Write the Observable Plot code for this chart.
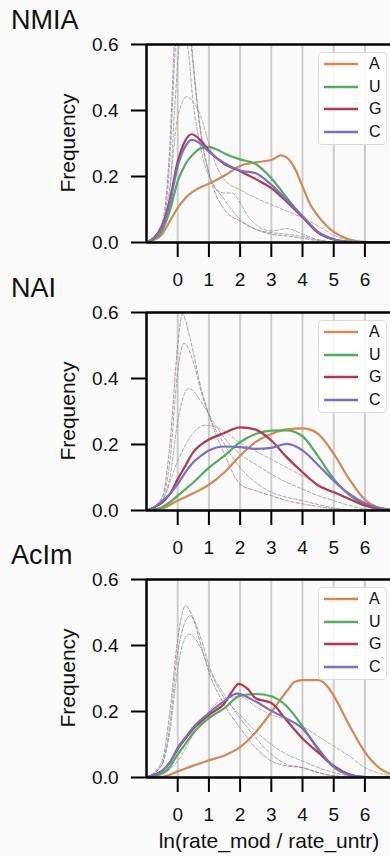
<!DOCTYPE html>
<html>
<head>
<meta charset="utf-8">
<script src="https://cdn.jsdelivr.net/npm/d3@7"></script>
<script src="https://cdn.jsdelivr.net/npm/@observablehq/plot@0.6"></script>
<style>
  body { margin: 0; background: #fafafa; font-family: "Liberation Sans", Arial, sans-serif; color: #111; }
  #chart { position: relative; width: 390px; height: 856px; overflow: hidden; }
  .panel { position: absolute; left: 0; }
  .title { position: absolute; left: 11px; font-size: 27px; line-height: 27px; white-space: nowrap; }
  .ylab { position: absolute; font-size: 21px; line-height: 21px; white-space: nowrap;
          transform: translate(-50%, -50%) rotate(-90deg); }
  .xlab { position: absolute; font-size: 21px; line-height: 21px; white-space: nowrap;
          transform: translateX(-50%); }
  .legend { position: absolute; left: 318px; width: 69px; height: 93px; box-sizing: border-box;
            border: 1px solid #dcdcdc; border-radius: 4px; background: rgba(255,255,255,0.85); }
  .legend .row { position: absolute; left: 0; height: 20px; display: flex; align-items: center; }
  .legend .row span { font-size: 16px; margin-left: 10px; }
</style>
</head>
<body>
<div id="chart"></div>
<script>
// Nucleotides, colours and panels
const nucleotides = ["A", "U", "G", "C"];
const colors = ["#d38a4f", "#4fae5f", "#b4374b", "#7b6ec5"];
const reagents = ["NMIA", "NAI", "AcIm"];
const xTicks = [0, 1, 2, 3, 4, 5, 6];
const yTicks = [0, 0.2, 0.4, 0.6];
const xLabel = "ln(rate_mod / rate_untr)";
const yLabel = "Frequency";

// NMIA — solid density curves, [x, frequency]
const nmiaA = [[-1,0],[-0.75,0.008],[-0.5,0.025],[-0.25,0.065],[0,0.105],[0.25,0.135],[0.5,0.155],[0.75,0.168],[1,0.178],[1.5,0.203],[2,0.232],[2.5,0.243],[3,0.25],[3.3,0.264],[3.5,0.257],[3.75,0.225],[4,0.17],[4.25,0.115],[4.5,0.08],[5,0.032],[5.5,0.009],[6,0.002],[7,0]];
const nmiaU = [[-1,0],[-0.75,0.01],[-0.5,0.036],[-0.25,0.097],[0,0.185],[0.25,0.238],[0.5,0.268],[0.75,0.286],[1,0.29],[1.25,0.282],[1.5,0.27],[2,0.252],[2.5,0.238],[3,0.195],[3.5,0.135],[4,0.078],[4.5,0.03],[5,0.009],[5.5,0.002],[6,0],[7,0]];
const nmiaG = [[-1,0],[-0.75,0.015],[-0.5,0.05],[-0.25,0.13],[0,0.245],[0.25,0.31],[0.45,0.328],[0.75,0.308],[1,0.278],[1.5,0.238],[2,0.216],[2.5,0.192],[3,0.165],[3.5,0.123],[4,0.077],[4.5,0.03],[5,0.009],[5.5,0.002],[6,0],[7,0]];
const nmiaC = [[-1,0],[-0.75,0.014],[-0.5,0.045],[-0.25,0.12],[0,0.232],[0.25,0.292],[0.45,0.311],[0.75,0.298],[1,0.275],[1.5,0.24],[2,0.218],[2.5,0.21],[3,0.175],[3.5,0.128],[4,0.08],[4.5,0.032],[5,0.01],[5.5,0.002],[6,0],[7,0]];
// NMIA — dashed curves
const nmiaAd = [[-1,0],[-0.5,0.04],[-0.25,0.17],[0,0.38],[0.3,0.442],[0.5,0.425],[0.75,0.38],[1,0.3],[1.25,0.23],[1.5,0.19],[2,0.16],[2.5,0.135],[3,0.115],[3.5,0.095],[4,0.075],[4.5,0.05],[5,0.022],[5.5,0.006],[6,0],[7,0]];
const nmiaUd = [[-1,0],[-0.5,0.03],[-0.25,0.15],[-0.1,0.4],[0.1,0.62],[0.3,0.6],[0.5,0.42],[0.75,0.28],[1,0.2],[1.25,0.16],[1.5,0.15],[1.75,0.15],[2,0.12],[2.25,0.08],[2.5,0.055],[3,0.035],[3.5,0.042],[4,0.025],[4.5,0.008],[5,0.002],[6,0],[7,0]];
const nmiaGd = [[-1,0],[-0.5,0.06],[-0.25,0.3],[-0.1,0.62],[0.1,0.88],[0.3,0.8],[0.45,0.6],[0.75,0.33],[1,0.21],[1.5,0.1],[2,0.065],[2.5,0.04],[3,0.025],[3.5,0.02],[4,0.013],[4.5,0.005],[5,0],[7,0]];
const nmiaCd = [[-1,0],[-0.5,0.05],[-0.25,0.25],[-0.1,0.55],[0.1,0.78],[0.3,0.72],[0.45,0.58],[0.75,0.32],[1,0.21],[1.5,0.13],[2,0.07],[2.5,0.04],[3,0.03],[3.5,0.025],[4,0.018],[4.5,0.008],[5,0.002],[7,0]];

// NAI — solid density curves
const naiA = [[-1,0],[-0.5,0.006],[0,0.03],[0.5,0.052],[1,0.078],[1.5,0.116],[2,0.166],[2.5,0.208],[3,0.232],[3.5,0.246],[4,0.249],[4.25,0.245],[4.5,0.232],[5,0.172],[5.5,0.095],[6,0.033],[6.5,0.007],[7,0.001]];
const naiU = [[-1,0],[-0.5,0.01],[-0.25,0.025],[0,0.045],[0.5,0.085],[1,0.13],[1.5,0.166],[2,0.207],[2.5,0.232],[3,0.242],[3.5,0.243],[4,0.225],[4.5,0.164],[5,0.096],[5.5,0.047],[6,0.018],[6.5,0.005],[7,0]];
const naiG = [[-1,0],[-0.75,0.01],[-0.5,0.024],[-0.25,0.05],[0,0.095],[0.25,0.136],[0.5,0.177],[0.75,0.2],[1,0.215],[1.5,0.235],[2,0.252],[2.5,0.245],[3,0.212],[3.5,0.161],[4,0.116],[4.5,0.076],[5,0.055],[5.5,0.035],[6,0.015],[6.5,0.004],[7,0]];
const naiC = [[-1,0],[-0.75,0.01],[-0.5,0.028],[-0.25,0.05],[0,0.08],[0.25,0.116],[0.5,0.146],[0.75,0.166],[1,0.182],[1.5,0.194],[2,0.192],[2.5,0.187],[3,0.19],[3.5,0.202],[4,0.182],[4.5,0.138],[5,0.09],[5.5,0.05],[6,0.022],[6.5,0.007],[7,0]];
// NAI — dashed curves
const naiAd = [[-1,0],[-0.5,0.03],[0,0.15],[0.5,0.235],[0.85,0.258],[1.5,0.24],[2,0.205],[2.5,0.18],[3,0.155],[3.5,0.13],[4,0.105],[4.5,0.08],[5,0.055],[5.5,0.035],[6,0.018],[6.5,0.005],[7,0]];
const naiUd = [[-1,0],[-0.5,0.03],[-0.25,0.1],[0,0.27],[0.35,0.37],[0.75,0.33],[1,0.29],[1.5,0.22],[2,0.17],[2.5,0.14],[3,0.11],[3.5,0.085],[4,0.065],[4.5,0.045],[5,0.03],[5.5,0.015],[6,0.005],[7,0]];
const naiGd = [[-1,0],[-0.5,0.04],[-0.25,0.2],[0,0.5],[0.15,0.595],[0.4,0.52],[0.75,0.37],[1,0.29],[1.5,0.17],[2,0.08],[2.5,0.06],[3,0.045],[3.5,0.03],[4,0.02],[4.5,0.012],[5,0.005],[6,0],[7,0]];
const naiCd = [[-1,0],[-0.5,0.035],[-0.25,0.15],[0,0.42],[0.2,0.507],[0.5,0.45],[0.75,0.36],[1,0.29],[1.5,0.2],[2,0.13],[2.5,0.085],[3,0.055],[3.5,0.04],[4,0.03],[4.5,0.018],[5,0.008],[6,0],[7,0]];

// AcIm — solid density curves
const acimA = [[-1,0],[-0.5,0.002],[0,0.018],[0.5,0.036],[1,0.052],[1.5,0.067],[2,0.092],[2.5,0.137],[3,0.198],[3.5,0.262],[3.75,0.29],[4,0.295],[4.5,0.295],[4.8,0.276],[5,0.248],[5.5,0.158],[6,0.077],[6.5,0.026],[7,0.005]];
const acimU = [[-1,0],[-0.75,0.005],[-0.5,0.012],[-0.25,0.032],[0,0.07],[0.25,0.102],[0.5,0.135],[1,0.18],[1.5,0.21],[2,0.248],[2.5,0.253],[3,0.246],[3.5,0.215],[4,0.155],[4.5,0.085],[5,0.032],[5.5,0.008],[6,0.001],[7,0]];
const acimG = [[-1,0],[-0.75,0.008],[-0.5,0.02],[-0.25,0.046],[0,0.087],[0.25,0.118],[0.5,0.148],[0.75,0.17],[1,0.19],[1.5,0.225],[1.75,0.262],[1.95,0.284],[2.25,0.268],[2.5,0.24],[3,0.226],[3.5,0.172],[4,0.118],[4.5,0.076],[5,0.035],[5.5,0.01],[6,0.001],[7,0]];
const acimC = [[-1,0],[-0.75,0.008],[-0.5,0.02],[-0.25,0.045],[0,0.09],[0.25,0.122],[0.5,0.152],[1,0.195],[1.5,0.232],[1.9,0.254],[2.5,0.23],[3,0.202],[3.5,0.178],[4,0.148],[4.5,0.088],[5,0.032],[5.5,0.008],[6,0.001],[7,0]];
// AcIm — dashed curves
const acimAd = [[-1,0],[-0.5,0.01],[0,0.05],[0.5,0.13],[1,0.2],[1.5,0.24],[2,0.245],[2.5,0.215],[3,0.19],[3.5,0.175],[4,0.155],[4.5,0.125],[5,0.095],[5.5,0.065],[6,0.03],[6.5,0.012],[7,0.003]];
const acimUd = [[-1,0],[-0.5,0.04],[-0.25,0.14],[0,0.33],[0.35,0.435],[0.75,0.39],[1,0.33],[1.5,0.24],[2,0.19],[2.5,0.14],[3,0.1],[3.5,0.07],[4,0.05],[4.5,0.03],[5,0.015],[5.5,0.005],[6,0],[7,0]];
const acimGd = [[-1,0],[-0.5,0.05],[-0.25,0.2],[0,0.42],[0.25,0.52],[0.5,0.48],[0.75,0.4],[1,0.32],[1.5,0.22],[2,0.15],[2.5,0.09],[3,0.05],[3.5,0.035],[4,0.03],[4.5,0.015],[5,0.005],[6,0],[7,0]];
const acimCd = [[-1,0],[-0.5,0.04],[-0.25,0.16],[0,0.38],[0.4,0.49],[0.75,0.42],[1,0.34],[1.5,0.25],[2,0.18],[2.5,0.12],[3,0.07],[3.5,0.04],[4,0.03],[4.5,0.015],[5,0.005],[6,0],[7,0]];

const solid = { NMIA: [nmiaA, nmiaU, nmiaG, nmiaC], NAI: [naiA, naiU, naiG, naiC], AcIm: [acimA, acimU, acimG, acimC] };
const dashed = { NMIA: [nmiaAd, nmiaUd, nmiaGd, nmiaCd], NAI: [naiAd, naiUd, naiGd, naiCd], AcIm: [acimAd, acimUd, acimGd, acimCd] };

// Layout of the three stacked panels
const plotTops = [44, 312, 579];
const mTop = 44, innerH = 198, mBottom = 48, mLeft = 146;
const chart = document.getElementById("chart");
const fontFamily = '"Liberation Sans", Arial, sans-serif';

reagents.forEach((name, i) => {
  const top = plotTops[i];
  const dashedMarks = dashed[name].map((pts, j) =>
    Plot.line(pts, { x: d => d[0], y: d => d[1], curve: "monotone-x", clip: true,
      stroke: d3.interpolateRgb(colors[j], "#8c8c8c")(0.55), strokeOpacity: 0.7,
      strokeWidth: 1, strokeDasharray: "3.5,2" }));
  const solidMarks = solid[name].map((pts, j) =>
    Plot.line(pts, { x: d => d[0], y: d => d[1], curve: "monotone-x", clip: true,
      stroke: colors[j], strokeWidth: 2.2 }));

  const svg = Plot.plot({
    width: 390,
    height: mTop + innerH + mBottom,
    marginLeft: mLeft, marginRight: 0, marginTop: mTop, marginBottom: mBottom,
    x: { domain: [-1, 6.82] },
    y: { domain: [0, 0.6] },
    style: { background: "transparent", fontFamily, color: "#111" },
    marks: [
      Plot.ruleX(xTicks, { stroke: "#cdcdcd", strokeWidth: 2 }),
      ...dashedMarks,
      ...solidMarks,
      Plot.ruleX([-1], { stroke: "#000", strokeWidth: 2.5 }),
      Plot.ruleY([0, 0.6], { stroke: "#000", strokeWidth: 2.5 }),
      Plot.axisX({ ticks: xTicks, tickSize: 15, tickPadding: 15, fontSize: 19,
        strokeWidth: 2, stroke: "#000", tickFormat: d => String(d), label: null }),
      Plot.axisY({ ticks: yTicks, tickSize: 15, tickPadding: 13, fontSize: 19,
        strokeWidth: 2, stroke: "#000", tickFormat: d3.format(".1f"), label: null })
    ]
  });
  svg.classList.add("panel");
  svg.style.top = (top - mTop) + "px";
  chart.appendChild(svg);

  // panel title
  const t = document.createElement("div");
  t.className = "title";
  t.textContent = name;
  t.style.top = (top - 14 - 23) + "px";
  chart.appendChild(t);

  // y-axis label
  const yl = document.createElement("div");
  yl.className = "ylab";
  yl.textContent = yLabel;
  yl.style.left = "67px";
  yl.style.top = (top + innerH / 2) + "px";
  chart.appendChild(yl);

  // legend
  const lg = document.createElement("div");
  lg.className = "legend";
  lg.style.top = (top + 8) + "px";
  nucleotides.forEach((nt, j) => {
    const row = document.createElement("div");
    row.className = "row";
    row.style.top = (1 + j * 22.7) + "px";
    const sw = d3.create("svg").attr("width", 40).attr("height", 20);
    sw.append("line").attr("x1", 5).attr("x2", 39).attr("y1", 10).attr("y2", 10)
      .attr("stroke", colors[j]).attr("stroke-width", 2.5);
    row.appendChild(sw.node());
    const s = document.createElement("span");
    s.textContent = nt;
    row.appendChild(s);
    lg.appendChild(row);
  });
  chart.appendChild(lg);
});

// shared x-axis label under the last panel
const xl = document.createElement("div");
xl.className = "xlab";
xl.textContent = xLabel;
xl.style.left = "269px";
xl.style.top = "830px";
chart.appendChild(xl);
</script>
</body>
</html>
